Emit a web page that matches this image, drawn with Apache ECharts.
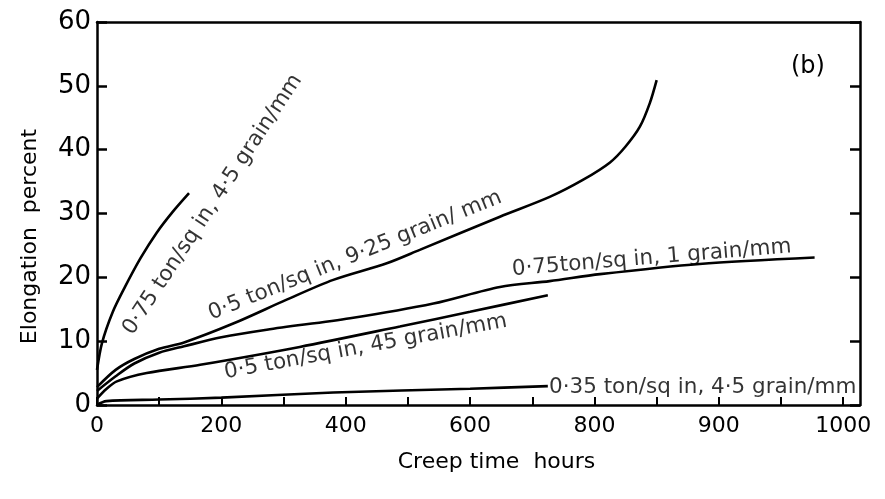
<!DOCTYPE html>
<html><head><meta charset="utf-8">
<script src="https://cdn.jsdelivr.net/npm/echarts/dist/echarts.min.js"></script>
<style>html,body{margin:0;padding:0;background:#fff}#c{width:885px;height:499px}</style>
</head><body><div id="c"></div>
<script>
// x tick labels exactly as printed on the original figure (ticks every 200 h)
const xTickLabels = ['0', '200', '400', '600', '800', '900', '1000'];

// 0.75 ton/sq in, 4.5 grain/mm
const c1Hours = [0, 8, 25, 45, 70, 96, 122, 148];
const c1Elong = [5.5, 9.7, 14.5, 18.5, 23, 27, 30.3, 33.2];

// 0.5 ton/sq in, 9.25 grain/mm
const c2Hours = [0, 30, 60, 100, 140, 220, 305, 380, 466, 519, 648, 728, 782, 825, 850, 873, 889, 900];
const c2Elong = [2.8, 5.5, 7.2, 8.8, 9.8, 12.8, 16.5, 19.6, 22.2, 24.3, 29.5, 32.6, 35.3, 38, 40.5, 43.6, 47.3, 50.9];

// 0.75 ton/sq in, 1 grain/mm
const c3Hours = [0, 30, 60, 100, 140, 200, 273, 407, 541, 648, 728, 809, 969, 1154];
const c3Elong = [2.2, 4.5, 6.5, 8.2, 9.2, 10.6, 11.8, 13.6, 15.9, 18.5, 19.4, 20.5, 22.1, 23.1];

// 0.5 ton/sq in, 45 grain/mm
const c4Hours = [0, 15, 32, 80, 166, 326, 487, 600, 725];
const c4Elong = [1.0, 2.5, 3.7, 5.0, 6.3, 9.1, 12.3, 14.6, 17.2];

// 0.35 ton/sq in, 4.5 grain/mm
const c5Hours = [0, 15, 100, 200, 380, 600, 725];
const c5Elong = [0, 0.6, 0.85, 1.15, 1.95, 2.55, 2.95];

// curve annotations: text, anchor (hours, elongation), angle
const noteTexts  = ['0·75 ton/sq in, 4·5 grain/mm', '0·5 ton/sq in, 9·25 grain/ mm', '0·75ton/sq in, 1 grain/mm', '0·5 ton/sq in, 45 grain/mm', '0·35 ton/sq in, 4·5 grain/mm'];
const noteHours  = [186, 415, 892, 432, 726];
const noteElong  = [31.4, 23.4, 23.0, 9.1, 2.7];
const noteAngles = [56.5, 22, 4.7, 10.4, 0];

const FONT = 'DejaVu Sans';
const zip = (xs, ys) => xs.map((x, i) => [x, ys[i]]);
const lineSeries = (name, xs, ys) => ({
  name, type: 'line', data: zip(xs, ys), smooth: 0.3, symbol: 'none',
  lineStyle: { color: '#000', width: 2.6 }, silent: true, z: 3
});

const notes = noteTexts.map((t, i) => ({
  value: [noteHours[i], noteElong[i]],
  label: {
    show: true, formatter: t, rotate: noteAngles[i],
    position: i === 4 ? 'right' : 'inside',
    distance: 0, color: '#000',
    align: i === 4 ? 'left' : 'center',
    verticalAlign: 'middle'
  }
}));

const axisLineStyle = { color: '#000', width: 2.5 };
const chart = echarts.init(document.getElementById('c'), null, { renderer: 'canvas' });
chart.setOption({
  animation: false,
  backgroundColor: '#fff',
  title: { text: '(b)', left: 786, top: 50, textStyle: { fontFamily: FONT, fontSize: 24, fontWeight: 'normal', color: '#000' } },
  grid: { left: 97, right: 25, top: 22, bottom: 94, containLabel: false },
  xAxis: [{
    type: 'value', min: 0, max: 1227, interval: 100,
    name: 'Creep time  hours', nameLocation: 'middle', nameGap: 46,
    nameTextStyle: { fontFamily: FONT, fontSize: 22, color: '#000', padding: [0, 0, 0, 36] },
    axisLine: { onZero: false, lineStyle: axisLineStyle },
    axisTick: { inside: true, length: 8, lineStyle: { color: '#000', width: 2 } },
    axisLabel: {
      color: '#000', fontFamily: FONT, fontSize: 22, margin: 10,
      showMaxLabel: false, hideOverlap: false,
      formatter: v => (v % 200 === 0 && v / 200 < xTickLabels.length) ? xTickLabels[v / 200] : ''
    },
    splitLine: { show: false }
  }, {
    type: 'value', position: 'top', min: 0, max: 1227,
    axisLine: { onZero: false, lineStyle: axisLineStyle },
    axisTick: { show: false }, axisLabel: { show: false }, splitLine: { show: false }
  }],
  yAxis: [{
    type: 'value', min: 0, max: 60, interval: 10,
    name: 'Elongation  percent', nameLocation: 'middle', nameGap: 56, nameRotate: 90,
    nameTextStyle: { fontFamily: FONT, fontSize: 22, color: '#000', padding: [0, 46, 0, 0] },
    axisLine: { onZero: false, lineStyle: axisLineStyle },
    axisTick: { inside: true, length: 10, lineStyle: { color: '#000', width: 2.5 } },
    axisLabel: { color: '#000', fontFamily: FONT, fontSize: 26, margin: 6 },
    splitLine: { show: false }
  }, {
    type: 'value', position: 'right', min: 0, max: 60, interval: 10,
    axisLine: { onZero: false, lineStyle: axisLineStyle },
    axisTick: { inside: true, length: 10, lineStyle: { color: '#000', width: 2.5 } },
    axisLabel: { show: false }, splitLine: { show: false }
  }],
  series: [
    lineSeries('0.75 ton/sq in, 4.5 grain/mm', c1Hours, c1Elong),
    lineSeries('0.5 ton/sq in, 9.25 grain/mm', c2Hours, c2Elong),
    lineSeries('0.75 ton/sq in, 1 grain/mm', c3Hours, c3Elong),
    lineSeries('0.5 ton/sq in, 45 grain/mm', c4Hours, c4Elong),
    lineSeries('0.35 ton/sq in, 4.5 grain/mm', c5Hours, c5Elong),
    {
      type: 'scatter', data: notes, symbol: 'circle', symbolSize: 1, silent: true, z: 5,
      itemStyle: { color: 'rgba(255,255,255,0)' },
      label: { show: true, color: '#000', fontFamily: FONT, fontSize: 21.5 },
      labelLayout: { hideOverlap: false }
    }
  ]
});
</script>
</body></html>
